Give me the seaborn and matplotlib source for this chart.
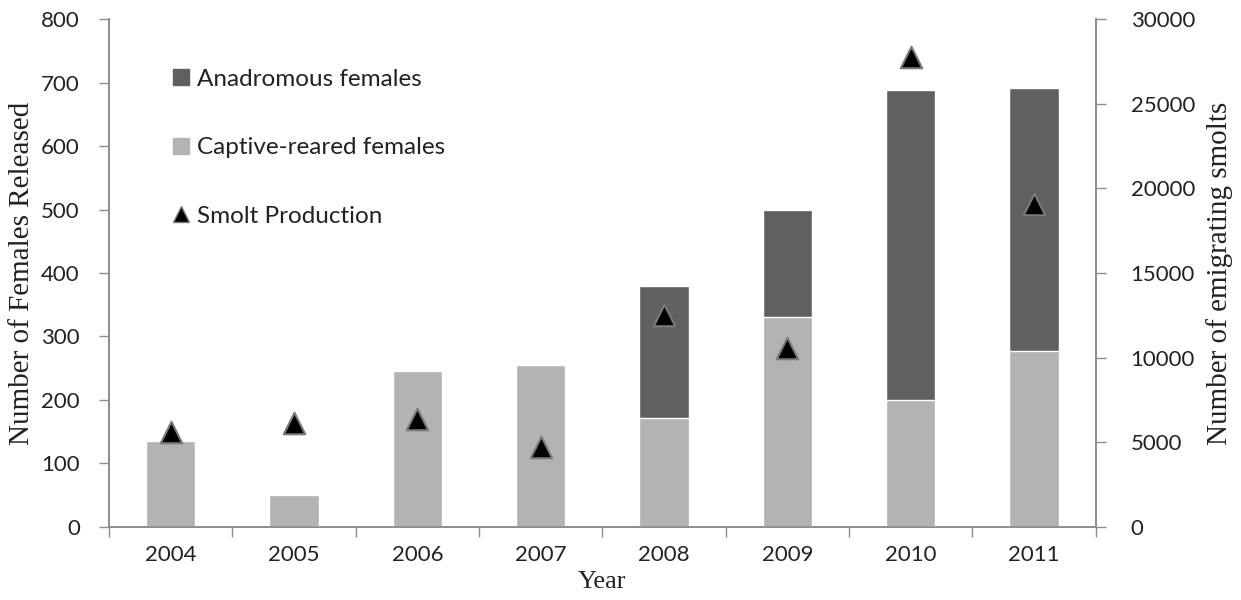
import matplotlib
matplotlib.use("Agg")
import matplotlib.pyplot as plt
from matplotlib.lines import Line2D
from matplotlib.ticker import FixedLocator, NullFormatter
import seaborn as sns
import pandas as pd
import numpy as np

years = ["2004", "2005", "2006", "2007", "2008", "2009", "2010", "2011"]
captive_reared = [135, 50, 246, 255, 172, 331, 200, 277]
anadromous = [0, 0, 0, 0, 208, 169, 488, 414]
smolts = [5600, 6150, 6350, 4750, 12500, 10550, 27750, 19050]

sns.set_theme(style="white")
plt.rcParams["font.family"] = ["Lato", "DejaVu Sans"]

df = pd.DataFrame({
    "year": years,
    "captive": captive_reared,
    "anadromous": anadromous,
    "smolts": smolts,
})
df["total"] = df["captive"] + df["anadromous"]

dark = "#606060"
light = "#b3b3b3"
axis_grey = "#8c8c8c"
text_col = "#222222"

fig = plt.figure(figsize=(12.41, 6.0), dpi=100)
ax = fig.add_axes([0.0878, 0.1217, 0.7952, 0.8466])

# stacked bars: full height in dark, captive-reared part on top in light
sns.barplot(data=df, x="year", y="total", color=dark, width=0.4,
            saturation=1, ax=ax, zorder=2)
sns.barplot(data=df, x="year", y="captive", color=light, width=0.4,
            saturation=1, ax=ax, zorder=3)

ax.set_ylim(0, 800)
ax.set_xlim(-0.5, 7.5)
ax.set_yticks(range(0, 801, 100))
ax.set_ylabel("Number of Females Released", family="Liberation Serif",
              fontsize=21, color=text_col, labelpad=4)
ax.set_xlabel("Year", family="Liberation Serif", fontsize=19,
              color=text_col, labelpad=4)

ax.xaxis.set_minor_locator(FixedLocator(np.arange(-0.5, 8.0, 1.0)))
ax.xaxis.set_minor_formatter(NullFormatter())
ax.tick_params(axis="x", which="major", length=0, pad=13, labelsize=16,
               labelcolor=text_col)
ax.tick_params(axis="x", which="minor", length=7, width=1, color=axis_grey,
               direction="out", bottom=True)
ax.tick_params(axis="y", which="major", length=7, width=1, color=axis_grey,
               direction="out", left=True, labelsize=16, pad=14,
               labelcolor=text_col)

for side in ["left", "bottom", "right"]:
    ax.spines[side].set_color(axis_grey)
    ax.spines[side].set_linewidth(1.2)
ax.spines["top"].set_visible(False)

# smolt production on the secondary axis
ax2 = ax.twinx()
sns.scatterplot(data=df, x="year", y="smolts", marker="^", s=240,
                color="black", edgecolor="#7a7a7a", linewidth=1.5,
                ax=ax2, zorder=5, legend=False)
ax2.set_ylim(0, 30000)
ax2.set_yticks(range(0, 30001, 5000))
ax2.set_ylabel("Number of emigrating smolts", family="Liberation Serif",
               fontsize=21, color=text_col, labelpad=8)
ax2.tick_params(axis="y", which="major", length=7, width=1, color=axis_grey,
                direction="out", right=True, labelsize=16, pad=18,
                labelcolor=text_col)
for side in ["left", "bottom", "right"]:
    ax2.spines[side].set_color(axis_grey)
    ax2.spines[side].set_linewidth(1.2)
ax2.spines["top"].set_visible(False)

handles = [
    Line2D([], [], marker="s", linestyle="none", markersize=11,
           markerfacecolor=dark, markeredgecolor=dark),
    Line2D([], [], marker="s", linestyle="none", markersize=11,
           markerfacecolor=light, markeredgecolor=light),
    Line2D([], [], marker="^", linestyle="none", markersize=12,
           markerfacecolor="black", markeredgecolor="#7a7a7a"),
]
labels = ["Anadromous females", "Captive-reared females", "Smolt Production"]
ax2.legend(handles, labels, loc="upper left", bbox_to_anchor=(0.042, 0.945),
           frameon=False, fontsize=17.5, labelspacing=1.95, handlelength=0.7,
           handletextpad=0.3, labelcolor=text_col)

fig.savefig("out.png", dpi=100, facecolor="white")
